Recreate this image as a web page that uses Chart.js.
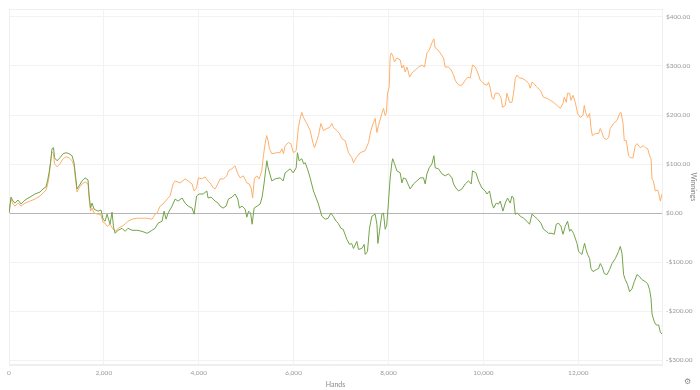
<!DOCTYPE html>
<html>
<head>
<meta charset="utf-8">
<script src="https://cdn.jsdelivr.net/npm/chart.js@4.4.0/dist/chart.umd.min.js"></script>
<style>
  html, body { margin: 0; padding: 0; background: #fff; }
  #wrap { position: relative; width: 700px; height: 390px; }
  #icon { position: absolute; left: 684px; top: 377px; font: 8px "DejaVu Sans", sans-serif; color: #888; }
</style>
</head>
<body>
<div id="wrap">
  <canvas id="chart" width="700" height="390"></canvas>
  <span id="icon">⚙</span>
</div>
<script>
// All-in adjusted winnings (orange)
const evHands = [
    0, 42, 84, 127, 190, 253, 337, 443, 548, 654,
    717, 780, 812, 844, 875, 907, 939, 960, 1012, 1076,
    1139, 1202, 1265, 1329, 1371, 1402, 1434, 1476, 1540, 1603,
    1666, 1687, 1719, 1750, 1793, 1877, 1940, 1982, 2025, 2067,
    2130, 2193, 2257, 2299, 2383, 2446, 2510, 2594, 2700, 2805,
    2910, 3016, 3079, 3121, 3185, 3248, 3332, 3395, 3459, 3501,
    3606, 3712, 3775, 3859, 3902, 3954, 3992, 4064, 4134, 4191,
    4239, 4309, 4345, 4380, 4450, 4520, 4591, 4625, 4697, 4766,
    4823, 4872, 4941, 5013, 5062, 5104, 5135, 5173, 5224, 5273,
    5329, 5363, 5399, 5431, 5462, 5490, 5540, 5646, 5715, 5751,
    5785, 5821, 5890, 5941, 5996, 6053, 6101, 6137, 6173, 6207,
    6278, 6348, 6405, 6439, 6489, 6523, 6574, 6629, 6700, 6755,
    6806, 6840, 6911, 6966, 7017, 7086, 7156, 7228, 7261, 7318,
    7403, 7508, 7578, 7628, 7683, 7719, 7755, 7789, 7860, 7894,
    7930, 7957, 7978, 8014, 8035, 8056, 8084, 8126, 8177, 8246,
    8282, 8316, 8352, 8388, 8421, 8442, 8493, 8563, 8632, 8704,
    8759, 8809, 8858, 8915, 8957, 8984, 9041, 9090, 9159, 9195,
    9265, 9322, 9371, 9406, 9442, 9490, 9547, 9617, 9674, 9722,
    9771, 9828, 9885, 9933, 9982, 10018, 10075, 10109, 10145, 10180,
    10214, 10250, 10319, 10370, 10404, 10461, 10497, 10552, 10602, 10636,
    10672, 10708, 10762, 10813, 10882, 10952, 10988, 11024, 11057, 11129,
    11199, 11268, 11340, 11410, 11479, 11551, 11621, 11678, 11705, 11747,
    11774, 11817, 11846, 11888, 11937, 11986, 12042, 12099, 12127, 12154,
    12197, 12239, 12268, 12296, 12359, 12428, 12464, 12500, 12534, 12590,
    12639, 12675, 12744, 12816, 12871, 12900, 12942, 12970, 13012, 13061,
    13097, 13154, 13202, 13238, 13308, 13371, 13413, 13462, 13504, 13534,
    13555, 13584, 13624, 13673, 13694, 13730, 13765
];
const evWinnings = [
    0, 28.7, 18.5, 14.4, 20.5, 14.4, 20.5, 24.6, 28.7, 34.9,
    41.1, 47.2, 57.5, 73.9, 102.7, 125.2, 121.1, 100.6, 94.4, 100.6,
    110.9, 115.0, 112.9, 106.8, 96.5, 69.8, 43.1, 51.3, 59.5, 63.6,
    59.5, 30.8, 4.1, 10.3, 0, -2.1, -4.1, -18.5, -20.5, -26.7,
    -22.6, -32.8, -37.0, -30.8, -26.7, -22.6, -16.4, -12.3, -10.3, -10.3,
    -10.3, -12.3, -2.1, 0, 14.4, 18.5, 28.7, 34.9, 59.5, 65.7,
    61.6, 69.8, 65.7, 59.5, 45.2, 51.3, 71.9, 69.8, 73.9, 65.7,
    61.6, 51.3, 49.3, 55.4, 69.8, 69.8, 76.0, 86.2, 90.3, 96.5,
    80.1, 71.9, 76.0, 61.6, 59.5, 51.3, 30.8, 69.8, 76.0, 69.8,
    86.2, 117.0, 141.7, 158.1, 147.8, 131.4, 121.1, 123.2, 123.2, 131.4,
    121.1, 137.6, 143.7, 141.7, 123.2, 127.3, 174.5, 193.0, 205.3, 195.0,
    182.7, 168.3, 143.7, 133.4, 147.8, 158.1, 182.7, 168.3, 172.5, 174.5,
    182.7, 174.5, 168.3, 162.2, 151.9, 147.8, 123.2, 112.9, 102.7, 112.9,
    123.2, 127.3, 143.7, 168.3, 184.8, 193.0, 164.2, 178.6, 203.2, 213.5,
    199.1, 205.3, 244.3, 256.6, 318.2, 326.4, 322.3, 308.0, 316.2, 312.1,
    295.6, 301.8, 287.4, 297.7, 287.4, 277.2, 285.4, 291.5, 297.7, 301.8,
    297.7, 326.4, 332.6, 347.0, 355.2, 336.7, 332.6, 326.4, 316.2, 297.7,
    297.7, 291.5, 281.3, 271.0, 264.8, 260.7, 260.7, 271.0, 277.2, 275.1,
    301.8, 297.7, 285.4, 271.0, 266.9, 262.8, 260.7, 266.9, 254.6, 236.1,
    232.0, 244.3, 244.3, 236.1, 215.6, 219.7, 244.3, 225.8, 225.8, 244.3,
    275.1, 281.3, 275.1, 275.1, 271.0, 264.8, 254.6, 266.9, 264.8, 256.6,
    250.5, 236.1, 234.0, 229.9, 225.8, 219.7, 213.5, 223.8, 236.1, 225.8,
    244.3, 244.3, 229.9, 240.2, 225.8, 203.2, 195.0, 199.1, 219.7, 205.3,
    195.0, 203.2, 174.5, 158.1, 162.2, 162.2, 172.5, 164.2, 154.0, 149.9,
    154.0, 172.5, 182.7, 188.9, 203.2, 205.3, 184.8, 147.8, 147.8, 117.0,
    112.9, 112.9, 137.6, 141.7, 133.4, 137.6, 133.4, 131.4, 117.0, 110.9,
    69.8, 65.7, 45.2, 47.2, 41.1, 24.6, 39.0
];

// Net winnings (green)
const netHands = [
    0, 42, 84, 127, 190, 253, 337, 443, 548, 654,
    717, 780, 812, 844, 875, 907, 939, 960, 1012, 1076,
    1139, 1202, 1265, 1329, 1371, 1402, 1434, 1476, 1540, 1603,
    1666, 1687, 1719, 1750, 1793, 1877, 1940, 1982, 2025, 2067,
    2130, 2172, 2204, 2236, 2299, 2383, 2446, 2510, 2594, 2700,
    2805, 2910, 3016, 3079, 3142, 3227, 3269, 3311, 3353, 3438,
    3501, 3564, 3649, 3712, 3775, 3859, 3902, 3954, 4007, 4091,
    4170, 4197, 4260, 4345, 4408, 4450, 4513, 4577, 4625, 4703,
    4766, 4823, 4857, 4914, 4977, 5013, 5051, 5093, 5125, 5167,
    5230, 5294, 5336, 5378, 5435, 5462, 5540, 5610, 5715, 5779,
    5821, 5926, 5990, 6053, 6080, 6116, 6173, 6211, 6243, 6291,
    6348, 6418, 6475, 6523, 6595, 6664, 6728, 6785, 6833, 6896,
    6939, 6996, 7044, 7122, 7177, 7223, 7261, 7333, 7367, 7438,
    7487, 7508, 7557, 7599, 7649, 7719, 7755, 7776, 7810, 7860,
    7894, 7930, 7962, 7993, 8035, 8071, 8088, 8126, 8177, 8246,
    8282, 8316, 8366, 8409, 8457, 8527, 8598, 8668, 8738, 8773,
    8809, 8858, 8915, 8957, 8984, 9054, 9126, 9195, 9265, 9337,
    9371, 9421, 9476, 9547, 9617, 9687, 9744, 9771, 9843, 9898,
    9969, 10039, 10075, 10129, 10180, 10214, 10271, 10319, 10355, 10412,
    10461, 10509, 10566, 10602, 10636, 10672, 10720, 10777, 10847, 10918,
    10973, 11024, 11072, 11142, 11214, 11268, 11325, 11374, 11446, 11494,
    11536, 11585, 11635, 11678, 11726, 11774, 11817, 11846, 11901, 11973,
    12007, 12078, 12106, 12133, 12163, 12197, 12239, 12268, 12310, 12380,
    12428, 12464, 12500, 12549, 12606, 12660, 12711, 12781, 12850, 12886,
    12922, 12956, 12991, 13040, 13082, 13133, 13181, 13238, 13293, 13344,
    13413, 13462, 13504, 13534, 13555, 13603, 13645, 13694, 13730, 13765
];
const netWinnings = [
    0, 32.8, 24.6, 20.5, 26.7, 18.5, 26.7, 32.8, 39.0, 43.1,
    49.3, 53.4, 65.7, 82.1, 102.7, 131.4, 133.4, 112.9, 106.8, 112.9,
    121.1, 123.2, 121.1, 117.0, 102.7, 76.0, 49.3, 55.4, 65.7, 71.9,
    67.7, 39.0, 10.3, 20.5, 8.2, 4.1, 6.2, -12.3, -16.4, -2.1,
    -22.6, 2.1, -28.7, -41.1, -34.9, -30.8, -37.0, -30.8, -34.9, -34.9,
    -37.0, -41.1, -34.9, -30.8, -20.5, -16.4, 4.1, -12.3, 0, 14.4,
    28.7, 24.6, 30.8, 20.5, 14.4, 10.3, -2.1, 34.9, 39.0, 39.0,
    45.2, 30.8, 32.8, 24.6, 20.5, 14.4, 10.3, 14.4, 28.7, 32.8,
    39.0, 28.7, 10.3, 14.4, 8.2, -8.2, 4.1, 0, -22.6, 10.3,
    14.4, 18.5, 32.8, 61.6, 106.8, 92.4, 65.7, 69.8, 71.9, 65.7,
    82.1, 90.3, 82.1, 92.4, 123.2, 106.8, 110.9, 100.6, 102.7, 90.3,
    71.9, 45.2, 30.8, 18.5, -6.2, -12.3, -10.3, 0, -6.2, -16.4,
    -20.5, -30.8, -32.8, -53.4, -63.6, -61.6, -71.9, -57.5, -73.9, -71.9,
    -63.6, -84.2, -78.0, -30.8, -6.2, -2.1, -22.6, -61.6, -37.0, -2.1,
    0, -32.8, -24.6, 14.4, 71.9, 102.7, 110.9, 100.6, 86.2, 82.1,
    61.6, 71.9, 69.8, 59.5, 49.3, 59.5, 65.7, 71.9, 71.9, 59.5,
    80.1, 92.4, 100.6, 117.0, 92.4, 90.3, 80.1, 76.0, 80.1, 71.9,
    59.5, 51.3, 45.2, 49.3, 59.5, 65.7, 59.5, 86.2, 82.1, 65.7,
    51.3, 45.2, 39.0, 45.2, 20.5, 10.3, 20.5, 18.5, 24.6, 4.1,
    20.5, 30.8, 20.5, 34.9, 30.8, -2.1, 0, -6.2, -10.3, -16.4,
    -22.6, -2.1, -6.2, -12.3, -20.5, -32.8, -37.0, -41.1, -41.1, -43.1,
    -22.6, -20.5, -26.7, -43.1, -26.7, -16.4, -37.0, -32.8, -41.1, -61.6,
    -78.0, -84.2, -71.9, -61.6, -73.9, -84.2, -92.4, -112.9, -119.1, -115.0,
    -112.9, -102.7, -108.8, -123.2, -125.2, -115.0, -102.7, -92.4, -78.0, -67.7,
    -82.1, -125.2, -135.5, -145.8, -160.1, -154.0, -139.6, -125.2, -129.3, -135.5,
    -139.6, -143.7, -156.0, -174.5, -205.3, -221.7, -227.9, -227.9, -242.3, -246.4
];

const xTicks = [0, 2000, 4000, 6000, 8000, 10000, 12000];
const yTicks = [-300, -200, -100, 0, 100, 200, 300, 400];

const labelFont = { family: 'Lato', size: 6.5 };
const labelColor = '#9a9a9a';

function toPoints(xs, ys) {
    return xs.map((x, i) => ({ x: x, y: ys[i] }));
}

function formatMoney(v) {
    const s = '$' + Math.abs(v).toFixed(2);
    return v < 0 ? '-' + s : s;
}

// faint frame round the plot area
const framePlugin = {
    id: 'frame',
    beforeDatasetsDraw(chart) {
        const a = chart.chartArea;
        const c = chart.ctx;
        c.save();
        c.strokeStyle = '#efefef';
        c.lineWidth = 1;
        c.strokeRect(Math.round(a.left) + 0.5, Math.round(a.top) + 0.5, Math.round(a.right - a.left), Math.round(a.bottom - a.top));
        c.restore();
    }
};

const ctx = document.getElementById('chart').getContext('2d');
const chart = new Chart(ctx, {
    type: 'line',
    data: {
        datasets: [{
            label: 'Net winnings',
            data: toPoints(netHands, netWinnings),
            borderColor: '#74a34a',
            borderWidth: 1,
            pointRadius: 0,
            tension: 0,
            fill: false
        }, {
            label: 'All-in EV',
            data: toPoints(evHands, evWinnings),
            borderColor: '#fdb06c',
            borderWidth: 1,
            pointRadius: 0,
            tension: 0,
            fill: false
        }]
    },
    options: {
        responsive: false,
        animation: false,
        events: [],
        layout: { padding: { left: 9, top: 9, right: 0, bottom: 0 } },
        plugins: {
            legend: { display: false },
            tooltip: { enabled: false }
        },
        scales: {
            x: {
                type: 'linear',
                min: 0,
                max: evHands[evHands.length - 1],
                afterBuildTicks: scale => { scale.ticks = xTicks.map(v => ({ value: v })); },
                ticks: {
                    font: labelFont,
                    color: labelColor,
                    padding: 4,
                    maxRotation: 0,
                    callback: v => v.toLocaleString('en-US')
                },
                grid: { color: '#f2f2f2', drawTicks: false },
                border: { color: '#efefef' },
                title: {
                    display: true,
                    text: 'Hands',
                    font: { family: 'Lato', size: 7 },
                    color: '#8a8a8a',
                    padding: { top: 0, bottom: 1 }
                }
            },
            y: {
                position: 'right',
                min: -309,
                max: 416,
                afterBuildTicks: scale => { scale.ticks = yTicks.map(v => ({ value: v })); },
                afterFit: scale => { scale.width = 38; },
                ticks: {
                    font: labelFont,
                    color: labelColor,
                    padding: 4,
                    callback: v => formatMoney(v)
                },
                grid: {
                    drawTicks: false,
                    color: c => (c.tick && c.tick.value === 0) ? '#b5b5b5' : '#f2f2f2'
                },
                border: { color: '#efefef' },
                title: {
                    display: true,
                    text: 'Winnings',
                    font: { family: 'Lato', size: 7 },
                    color: '#8a8a8a',
                    padding: { top: 3, bottom: 0 }
                }
            }
        }
    },
    plugins: [framePlugin]
});
</script>
</body>
</html>
